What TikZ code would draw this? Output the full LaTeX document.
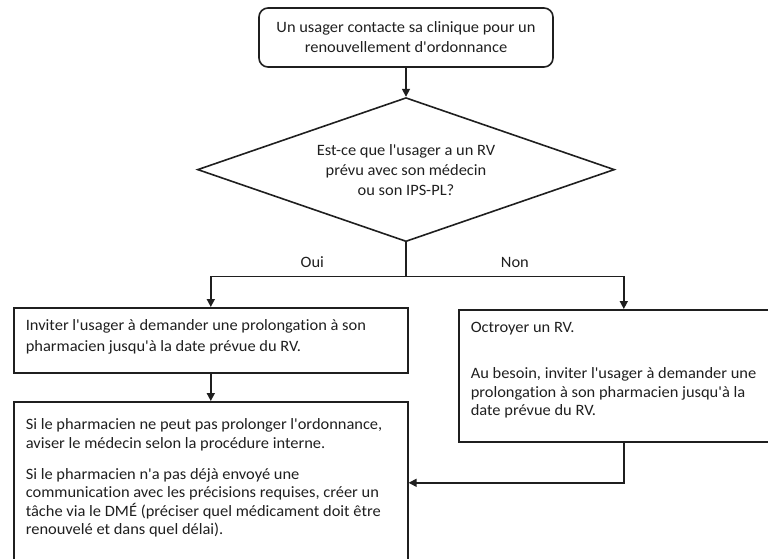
\documentclass[tikz,border=0pt]{standalone}
\usepackage{fontspec}
\setmainfont{Carlito}[Ligatures={TeXOff,CommonOff}, FakeStretch=1.04]
\usetikzlibrary{arrows.meta,positioning,shapes.geometric}

\tikzset{
  startbox/.style={draw, rounded corners=9pt, minimum width=294pt, minimum height=59pt,
    align=center, font=\fontsize{15.8}{20}\selectfont},
  decision/.style={draw, diamond, minimum width=417pt, minimum height=144pt, inner sep=0pt,
    shape aspect=2.9, align=center, font=\fontsize{15.8}{20}\selectfont},
  stepbox/.style 2 args={draw, anchor=north west, inner xsep=12pt, inner ysep=10pt,
    execute at begin node={\begin{minipage}[t][#2][t]{#1}\setlength{\baselineskip}{18.5pt}\strut},
    execute at end node={\end{minipage}}},
}

\begin{document}
\begin{tikzpicture}[x=1pt, y=1pt, >={Triangle[length=8pt,width=8pt]}, line width=1.6pt,
    color=black!88, font=\fontsize{15.8}{18.5}\selectfont]
  \useasboundingbox (0,0) rectangle (768,-558);

  \node[startbox] (start) at (406,-37.5) {Un usager contacte sa clinique pour un\\renouvellement d'ordonnance};
  \node[decision, below=29pt of start] (rv) {Est-ce que l'usager a un RV\\prévu avec son médecin\\ou son IPS-PL?};
  \coordinate[below=34pt of rv.south] (fork);

  \node[stepbox={370pt}{45pt}] (oui) at (13,-307)
    {Inviter l'usager à demander une prolongation à son\\[2pt]pharmacien jusqu'à la date prévue du RV.};
  \node[stepbox={370pt}{132pt}, inner ysep=15pt] (suite) at (13,-401)
    {Si le pharmacien ne peut pas prolonger l'ordonnance,\\aviser le médecin selon la procédure interne.\\[12.5pt]Si le pharmacien n'a pas déjà envoyé une\\communication avec les précisions requises, créer un\\tâche via le DMÉ (préciser quel médicament doit être\\renouvelé et dans quel délai).};
  \node[stepbox={306pt}{112pt}] (non) at (458,-309)
    {Octroyer un RV.\\[27.5pt]Au besoin, inviter l'usager à demander une\\prolongation à son pharmacien jusqu'à la\\date prévue du RV.};

  \draw[->] (start) -- (rv);
  \draw (rv.south) -- (fork);
  \draw[->] (fork) -| node[pos=0.24, above=5pt] {Oui} (oui.north);
  \draw[->] (fork) -| node[pos=0.25, above=5pt] {Non} (non.north);
  \draw[->] (oui) -- (suite);
  \draw[->] (non.south) |- (suite.east);
\end{tikzpicture}
\end{document}
